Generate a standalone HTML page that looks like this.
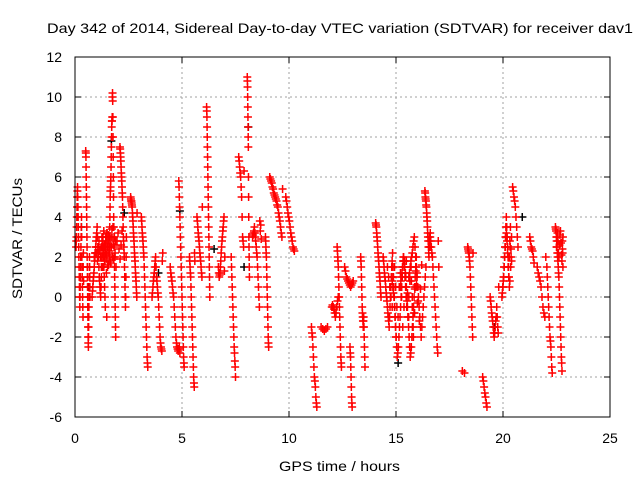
<!DOCTYPE html>
<html><head><meta charset="utf-8"><style>
body{margin:0;background:#fff;}
svg{display:block;font-family:"Liberation Sans",sans-serif;}
</style></head><body>
<svg id="chart" width="640" height="480">
<rect width="640" height="480" fill="#fff"/>
<text x="47" y="33" font-size="14" textLength="586" lengthAdjust="spacingAndGlyphs">Day 342 of 2014, Sidereal Day-to-day VTEC variation (SDTVAR) for receiver dav1</text>
<text x="279" y="471" font-size="14" textLength="121" lengthAdjust="spacingAndGlyphs">GPS time / hours</text>
<text transform="translate(22,299) rotate(-90)" font-size="14" textLength="121" lengthAdjust="spacingAndGlyphs">SDTVAR / TECUs</text>
<g id="grid"></g><g id="ticks"></g><g id="marks"></g>
<rect x="75" y="57" width="535" height="360" fill="none" stroke="#000" stroke-width="1"/>
</svg>
<script>
const xTicks=[0,5,10,15,20,25];
const yTicks=[-6,-4,-2,0,2,4,6,8,10,12];
const trackStart=[0.05,0.5,0.8,1.6,1.2,2.1,2.6,3.1,3.6,4.45,4.85,5.35,5.7,6.15,6.7,7.3,7.65,8.05,8.3,8.9,9.1,9.85,11.05,11.5,12.0,12.25,12.6,12.85,13.35,14.05,14.4,14.8,15.2,15.6,16.35,16.6,18.35,18.1,19.05,19.4,19.95,20.45,21.25,21.6,22.05,22.45,0.9,1.3,14.6,15.4,20.0,22.5];
const trackEnd=[0.4,0.7,1.5,1.9,1.9,2.4,2.9,3.4,4.1,4.9,5.1,5.6,5.95,6.3,7.0,7.5,7.9,8.15,8.7,9.05,9.7,10.25,11.3,11.8,12.3,12.45,13.0,12.95,13.55,14.3,15.0,15.5,16.0,16.4,16.6,17.0,18.6,18.2,19.25,19.8,20.4,20.7,21.45,22.0,22.3,22.8,1.6,2.2,16.2,16.0,20.4,22.8];
const trackValues=[
[2.5,2.8,3,3.5,4,4.5,5,5.3,5.5,5,4.5,4,3.5,3,2.5,2,1.5,1,0.5,0,-0.5,0,0.5,1,1.5,2,2.5,3,3.5,4,3,2,1.5,1,0.5,0,-0.5,-1,1.5,2.2,0.8],
[7.3,7.2,7,6.5,6,5.5,5,4.5,4,3.5,3,2.5,2,1.5,1,0.5,0,-0.5,-1,-1.5,-2,-2.3,-2.5,-2,-1.5,-1,-0.5,0,0.5,1,1.5,2,1.5,1,0.5,0],
[0,0.3,0.5,0.8,1,1.2,1.5,1.8,2,2.2,2.5,2.8,3,3.2,3.5,3,2.5,2.2,2,1.5,1,0.8,0.5,0.2,0,0.5,1,1.5,2,2.5,3,2.5,2,1.5,1,0.5,0,-0.5,2.8,2.2,1.2,-1,3.2],
[2,2.5,3,3.5,4,4.5,5,5.3,5.5,5.8,6,6.5,7,7.5,8,8.5,8.8,8.8,9,10,10.2,9.8,9,8,7,6,5,4,3.5,3,2.5,2,1.5,1,0.5,0,-0.5,-1,-1.5,-2],
[2,2.5,3,2.8,2.2,3.3,2.6,1.8,2.4,3,2.1,1.5,2.7,3.1,2.3,2.9,1.7,2.5,3.4,2,2.6,1.9,3,2.2,2.8],
[7.5,7.4,7.2,7,6.8,6.5,6.2,6,5.8,5.5,5.2,5,4.5,4,3.5,3,2.8,2.5,2.2,2,1.5,1,0.5,0,-0.5,0,1,2,3],
[5,4.9,4.8,4.8,4.7,4.6,4.5,4.2,4,3.8,3.5,3.2,3,2.8,2.5,2.2,2,1.8,1.5,1.2,1,0.8,0.5,0.2,0,4.2],
[4,3.8,3.5,3.2,3,2.8,2.5,2.2,2,1.5,1,0.5,0,-0.5,-1,-1.5,-2,-2.5,-3,-3.3,-3.5],
[0,0.2,0.5,0.8,1,1.2,1.5,1.8,2,1.5,1,0.8,0.5,0.2,0,-0.5,-1,-1.5,-2,-2.3,-2.5,-2.6,-2.7,1.8,2.2],
[1.5,1.2,1,0.8,0.5,0.2,0,-0.5,-1,-1.5,-2,-2.3,-2.5,-2.6,-2.7,-2.6,-2.5,-2.8],
[5.8,5.5,5,4.5,4,3.5,3,2.5,2,1.5,1,0.5,0,-0.5,-1,-1.5,-2,-2.5,-3,-3.3,-3.5],
[2,1.8,1.5,1.2,1,0.5,0,-0.5,-1,-1.5,-2,-2.5,-3,-3.5,-4,-4.3,-4.5,2.2,1.8],
[4,3.8,3.5,3.2,3,2.8,2.5,2.2,2,1.8,1.5,1.2,1,4.5],
[9.5,9.3,9,8.5,8,7.5,7,6.5,6,5.5,5,4.5,4,3.5,3,2.5,2,1.5,1,0.5,0],
[1.5,1.2,1,1.1,1.2,1.5,1.8,2.2,2.5,2.8,3,3.3,3.5,3.8,4,1.3,2],
[2,1.5,1,0.5,0,-0.5,-1,-1.5,-2,-2.5,-2.8,-3.2,-3.5,-4],
[7,6.8,6.5,6.2,6,5.5,5,4,3,2.8,2.5,6.3],
[11,10.8,10.5,10,9.5,9,8.5,8,7.5,6,5,4,3,2.5,2,1.5,1],
[3,3.1,3.2,3.3,3.5,3.2,3,2.8,2.5,2.2,2,1.5,1,0.5,0,-0.5,3.8,3.3,3.6,2.9],
[3,2.8,2.5,2.2,2,1.5,1,0.5,0,-0.5,-1,-1.5,-2,-2.3,-2.5],
[6,5.9,5.8,5.7,5.5,5.4,5.2,5.1,5,4.9,4.8,4.6,4.5,4.2,4,3.8,3.5,3.2,3,5.4],
[5,4.8,4.5,4.2,4,3.8,3.5,3.2,3,2.8,2.5,2.4,2.3],
[-1.5,-1.8,-2,-2.5,-3,-3.5,-4,-4.2,-4.5,-5,-5.3,-5.5],
[-1.5,-1.6,-1.7,-1.6,-1.5],
[-0.5,-0.4,-0.5,-0.6,-0.8,-1,-0.8,-0.5,-0.2,0],
[2.5,2.3,2,1.8,1.5,1,0.5,0,-0.5,-1,-1.5,-2,-2.5,-3,-3.3,-3.5],
[1.5,1.3,1,0.9,0.8,0.7,0.6,0.5,0.6,0.7,0.8],
[-2.5,-2.8,-3,-3.5,-4,-4.5,-5,-5.3,-5.5],
[2,1.8,1.5,1,0.5,0,-0.5,-0.8,-1,-1.2,-1.5,-1.2,-1,-1.5,-2,-2.5,-3,-3.5],
[3.7,3.6,3.5,3.2,3,2.8,2.5,2.2,2,1.8,1.5,1.2,1,0.8,0.5,0.2,0],
[2,1.8,1.5,1.2,1,0.8,0.5,0.2,0,-0.2,-0.5,-0.8,-1,-1.2,-1.5,-1,-0.5,0,0.5,1,1.5,1.8,2.2,1.5,1,0.5,0,-0.5,-1,-1.5,-2],
[1,0.8,0.5,0.2,0,-0.5,-1,-1.5,-2,-2.5,-3,-2.8,-2.5,-2,-1.5,-1,-0.5,0,0.5,1,1.5,2,1.8,1.5,1,0.5,0,-0.5],
[0.5,0.8,1,1.2,1.5,1.8,2,1.8,1.5,1.2,1,0.5,0,-0.5,-1,-1.5,-2,-2.5,-3,-2.8,-2.5,-2,-1.5,-1,-0.5,0,0.5,1,1.5,2,1,0.5],
[1,1.2,1.5,1.8,2,2.2,2.5,2.8,3,2.5,2,1.5,1,0.5,0,-0.5,-1,-1.5,-2,-1.5,-1,-0.5,0,0.5,1,1.5],
[5.3,5.2,5,4.9,4.8,4.6,4.5,4.2,4,3.8,3.5,3.2,3,2.8,2.5,2.2,2,2.5,3,2.8,2.5,3.2],
[3,2.8,2.5,2.2,2,1.5,1,0.5,0,-0.5,-1,-1.5,-2,-2.5,-2.8,2.8,1.5],
[2.5,2.4,2.3,2.2,2,1.8,1.5,1,0.5,0,-0.5,-1,-1.5,-2,2.2],
[-3.7,-3.8],
[-4,-4.2,-4.5,-4.8,-5,-5.3,-5.5],
[0,-0.2,-0.5,-0.8,-1,-1.2,-1.5,-1.8,-2,-1.8,-1.5,-1.2,-1,-0.5,-1,-1.5,-1.8,0.5],
[0,0.2,0.5,0.8,1,1.5,2,2.5,3,3.5,4,3.5,3,2.5,2,1.5,1,0.5,0.8,2.5,1.5,2,3],
[5.5,5.3,5,4.8,4.5,4,3.5,3,2.5],
[3,2.8,2.5,2.4,2.3,2,1.7],
[1.5,1.2,1,0.8,0.5,0,-0.5,-0.8,-1,2],
[1.5,1,0.5,0,-0.5,-1,-1.5,-2,-2.2,-2.5,-3,-3.5,-3.8],
[3.5,3.4,3.3,3,2.8,2.5,2.2,2,1.8,1.5,1.2,1,0.5,0,-0.5,-1,-1.5,-2,-2.5,-3,-3.3,-3.7,2.8,2.2,1.5],
[2,2.2,2.5,2.2,1.8,2.5,2.8,2.3,2,1.5,2.6,3,2.4,1.8,2.2,2.7,1.9,2.5,1.6,2.1],
[1.5,2,2.5,3,3.2,2.8,2.2,1.8,2.5,3,3.5,2.6,2,1.5,2.8,3.2,2.4,1.9,2.6,3.3],
[1.5,1,0.5,0,-0.5,1,1.5,0.5,-0.5,-1,0.5,1.2,0,-1.5,-0.5,1,1.8,0.2,-1,0.8,1.5,0,-2,-0.8,0.5,1.2,-0.2,-1.2,0.4,1.6],
[1.8,1.2,0.5,-0.2,-1,0,1,1.5,0.8,-0.5,-1.5,-0.8,0.4,1.3,0.6,-0.3],
[0.5,1,1.5,2,2.5,3,3.2,2.8,2.2,1.5,1,2,2.8,3.5,2.4,1.8],
[2.5,3,3.2,2.8,2.2,2,2.6,3.1,3.3,2.7,2.1,1.8,2.4,3]
];
const blackValuesT=[0.3,0.6,1.0,1.7,2.3,3.9,4.9,6.5,7.9,8.1,15.1,19.6,20.9];
const blackValuesV=[3.5,0.5,2.2,7.8,4.2,1.2,4.3,2.4,1.5,8.5,-3.3,-1.5,4];
const NS="http://www.w3.org/2000/svg";
const X0=75,X1=610,Y0=417,Y1=57;
function xs(t){return X0+(t-0)/(25-0)*(X1-X0);}
function ys(v){return Y0-(v+6)/(12+6)*(Y0-Y1);}
const grid=document.getElementById('grid'),ticks=document.getElementById('ticks'),marks=document.getElementById('marks');
function ln(p,x1,y1,x2,y2,c,dash){const l=document.createElementNS(NS,'line');l.setAttribute('x1',x1);l.setAttribute('y1',y1);l.setAttribute('x2',x2);l.setAttribute('y2',y2);l.setAttribute('stroke',c);if(dash)l.setAttribute('stroke-dasharray',dash);p.appendChild(l);return l;}
function tx(p,x,y,s,anc){const t=document.createElementNS(NS,'text');t.setAttribute('x',x);t.setAttribute('y',y);t.setAttribute('font-size','14');t.setAttribute('text-anchor',anc);t.textContent=s;p.appendChild(t);return t;}
xTicks.forEach(v=>{const x=xs(v);
 if(v>0&&v<25){const g=ln(grid,x,Y1,x,Y0,'#a0a0a0','2,3');
 
 }
 ln(ticks,x,Y0,x,Y0-6,'#000');ln(ticks,x,Y1,x,Y1+6,'#000');
 const t=tx(ticks,x,443,String(v),'middle');
 
 });
yTicks.forEach(v=>{const y=ys(v);
 if(v>-6&&v<12){const g=ln(grid,X0,y,X1,y,'#a0a0a0','2,3');
 
 }
 ln(ticks,X0,y,X0+6,y,'#000');ln(ticks,X1,y,X1-6,y,'#000');
 const t=tx(ticks,62,y+5,String(v),'end');
 
 });
function plus(t,v,c){const x=xs(t),y=ys(v);const p=document.createElementNS(NS,'path');
 p.setAttribute('d','M'+(x-4)+' '+y+'h8M'+x+' '+(y-4)+'v8');p.setAttribute('stroke',c);p.setAttribute('stroke-width','1.5');
 
 
 marks.appendChild(p);}
for(let i=0;i<blackValuesT.length;i++)plus(blackValuesT[i],blackValuesV[i],'#000');
trackValues.forEach((vals,i)=>{const a=trackStart[i],b=trackEnd[i],n=vals.length;
 vals.forEach((v,j)=>{plus(a+(n>1?(b-a)*j/(n-1):0),v,'#ff0000');});});
</script>
</body></html>
